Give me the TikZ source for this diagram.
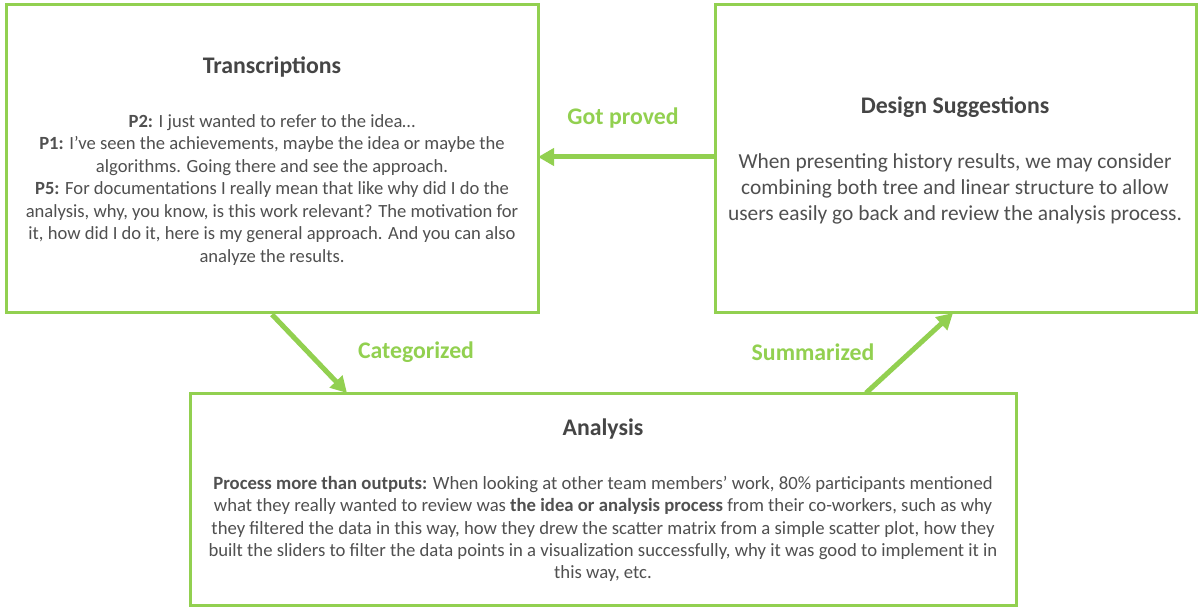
\documentclass[tikz,border=0pt]{standalone}
\usepackage{fontspec}
\setmainfont{Carlito}
\usetikzlibrary{arrows.meta}
\definecolor{gr}{HTML}{92D050}
\definecolor{tx}{HTML}{505050}
\definecolor{tt}{HTML}{454545}
\tikzset{
  box/.style={draw=gr, line width=3pt, fill=white, inner sep=0pt},
  title/.style={text=tt, font=\fontsize{23.8}{28}\selectfont\bfseries, inner sep=0pt},
  body/.style={text=tx, align=center, inner sep=0pt},
  lbl/.style={text=gr, font=\fontsize{23.8}{28}\selectfont\bfseries, inner sep=0pt},
  arr/.style={draw=gr, line width=5pt, -{Triangle[length=16pt,width=17pt]}},
}
\begin{document}
\begin{tikzpicture}[x=1pt,y=-1pt]
\useasboundingbox (0,0) rectangle (1202,612);
% boxes
\node[box, minimum width=532pt, minimum height=308pt] (tr) at (272,159) {};
\node[box, minimum width=481pt, minimum height=308pt] (ds) at (955.5,159) {};
\node[box, minimum width=826pt, minimum height=212pt] (an) at (603,499) {};
% titles
\node[title] (trt) at (272,67) {Transcriptions};
\node[title] (dst) at (955,107) {Design Suggestions};
\node[title] (ant) at (603,429) {Analysis};
% bodies
\node[body, font=\fontsize{18.6}{22.5}\selectfont] (trb) at (272,190)
 {\textbf{P2:} I just wanted to refer to the idea\ldots\\
  \textbf{P1:} I’ve seen the achievements, maybe the idea or maybe the\\
  algorithms. Going there and see the approach.\\
  \textbf{P5:} For documentations I really mean that like why did I do the\\
  analysis, why, you know, is this work relevant? The motivation for\\
  it, how did I do it, here is my general approach. And you can also\\
  analyze the results.};
\node[body, font=\fontsize{21.4}{26}\selectfont] (dsb) at (955,189)
 {When presenting history results, we may consider\\
  combining both tree and linear structure to allow\\
  users easily go back and review the analysis process.};
\node[body, font=\fontsize{18.7}{22.2}\selectfont] (anb) at (603,529)
 {\textbf{Process more than outputs:} When looking at other team members’ work, 80\% participants mentioned\\
  what they really wanted to review was \textbf{the idea or analysis process} from their co-workers, such as why\\
  they filtered the data in this way, how they drew the scatter matrix from a simple scatter plot, how they\\
  built the sliders to filter the data points in a visualization successfully, why it was good to implement it in\\
  this way, etc.};
% connectors
\coordinate (c1) at (347,393);
\coordinate (c2) at (866,393);
\coordinate (c3) at (953,313);
\coordinate (g1) at (715,157);
\coordinate (g2) at (538,157);
\draw[arr] (g1) -- (g2);
\draw[arr] (tr.south) -- (c1);
\draw[arr] (c2) -- (c3);
% labels
\node[lbl] (lg) at (623,118) {Got proved};
\node[lbl] (lc) at (416,352) {Categorized};
\node[lbl] (ls) at (813,352) {Summarized};
\end{tikzpicture}
\end{document}
